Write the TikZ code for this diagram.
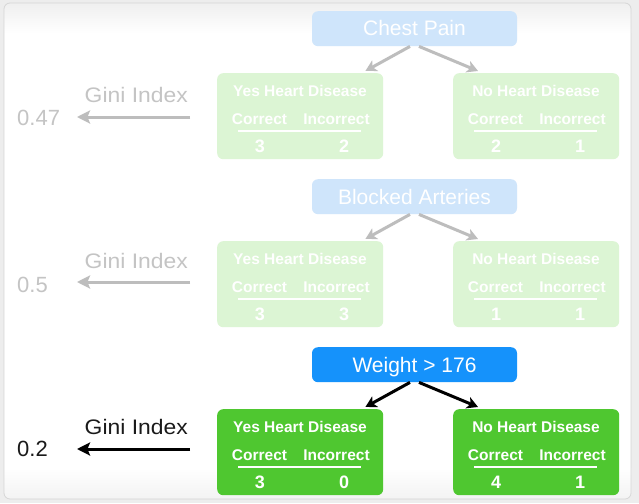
\documentclass[tikz,border=0pt]{standalone}
\usepackage{fontspec}
\usepackage{graphicx}
\setmainfont{Liberation Sans}
\usetikzlibrary{arrows.meta,calc}
\definecolor{gstrong}{HTML}{4FC730}
\definecolor{gfade}{HTML}{DCF5D4}
\definecolor{bstrong}{HTML}{1592FB}
\definecolor{bfade}{HTML}{CFE5FB}
\definecolor{afade}{HTML}{BDBDBD}
\definecolor{tfade}{HTML}{C4C4C4}
\definecolor{tdark}{HTML}{1A1A1A}
\definecolor{outerbg}{HTML}{EDEDED}
\definecolor{cardline}{HTML}{D6D6D6}
\definecolor{topg}{HTML}{EFEFEF}
\definecolor{botg}{HTML}{F3F3F3}
\tikzset{
  leaf/.style={rectangle, rounded corners=6pt, minimum width=166pt, minimum height=86pt, inner sep=0pt, draw=none},
  hdr/.style={rectangle, rounded corners=6pt, minimum width=205pt, minimum height=35pt, inner sep=0pt, draw=none},
  hdrtext/.style={inner sep=0pt, anchor=base, text=white, font=\fontsize{21}{25}\selectfont},
  ltitle/.style={inner sep=0pt, anchor=base, text=white, font=\bfseries\fontsize{15.5}{18}\selectfont},
  lsub/.style={inner sep=0pt, anchor=base, text=white, font=\bfseries\fontsize{15.5}{18}\selectfont},
  lnum/.style={inner sep=0pt, anchor=base, text=white, font=\bfseries\fontsize{18}{21}\selectfont},
  ginitext/.style={inner sep=0pt, font=\fontsize{21}{25}\selectfont},
  tarrow/.style={line width=3pt, -{Stealth[length=11pt,width=12pt,inset=3pt]}},
  garrow/.style={line width=3pt, -{Stealth[length=13pt,width=13pt,inset=2.5pt]}},
}
\newcommand\hdrbox[4]{%
  \node[hdr, fill=#4, anchor=north] (#1) at (414.5,#2) {};
  \node[hdrtext] (#1t) at ($(#1.north)+(0,25)$) {#3};
}
\newcommand\leafbox[7]{%
  \node[leaf, fill=#7, anchor=north west] (#1) at (#2,#3) {};
  \node[ltitle] (#1t) at ($(#1.north west)+(83,23)$) {#4};
  \node[lsub] (#1c) at ($(#1.north west)+(42.5,51)$) {Correct};
  \node[lsub] (#1i) at ($(#1.north west)+(119.5,51)$) {Incorrect};
  \coordinate (#1l) at ($(#1.north west)+(21,58)$);
  \coordinate (#1r) at ($(#1.north west)+(144,58)$);
  \draw[white, line width=1.6pt] (#1l) -- (#1r);
  \node[lnum] (#1a) at ($(#1.north west)+(43,79)$) {#5};
  \node[lnum] (#1b) at ($(#1.north west)+(127,79)$) {#6};
}
\newcommand\treearrows[4]{%
  \coordinate (#1sl) at ($(#1.south)+(-4.5,0)$);
  \coordinate (#1sr) at ($(#1.south)+(4.5,0)$);
  \coordinate (#1el) at ($(#2.north east)+(-18,-2)$);
  \coordinate (#1er) at ($(#3.north west)+(25,-2)$);
  \draw[tarrow, draw=#4] (#1sl) -- (#1el);
  \draw[tarrow, draw=#4] (#1sr) -- (#1er);
}
\newcommand\giniset[7]{%
  \node[ginitext, text=#6, anchor=base east] (#1g) at (188,#2) {\scalebox{1.09}[1]{Gini Index}};
  \node[ginitext, text=#6, anchor=base west] (#1n) at (17,#3) {\fontsize{22}{26}\selectfont #5};
  \coordinate (#1s) at (190,#4);
  \coordinate (#1e) at (77,#4);
  \draw[garrow, draw=#7] (#1s) -- (#1e);
}
\begin{document}
\begin{tikzpicture}[x=1pt, y=-1pt]
\useasboundingbox (0,0) rectangle (639,503);
\fill[outerbg] (0,0) rectangle (639,503);
\begin{scope}
  \clip[rounded corners=6pt] (4,3) rectangle (631,499);
  \fill[white] (4,3) rectangle (631,499);
  \shade[top color=topg, bottom color=white] (4,3) rectangle (631,33);
  \shade[top color=white, bottom color=botg] (4,468) rectangle (631,499);
\end{scope}
\draw[cardline, line width=0.8pt, rounded corners=6pt] (4,3) rectangle (631,499);

% Row 1
\hdrbox{h1}{11}{Chest Pain}{bfade}
\leafbox{y1}{217}{73}{Yes Heart Disease}{3}{2}{gfade}
\leafbox{n1}{453}{73}{No Heart Disease}{2}{1}{gfade}
\treearrows{h1}{y1}{n1}{afade}
\giniset{r1}{102}{125}{117}{0.47}{tfade}{afade}

% Row 2
\hdrbox{h2}{179}{Blocked Arteries}{bfade}
\leafbox{y2}{217}{241}{Yes Heart Disease}{3}{3}{gfade}
\leafbox{n2}{453}{241}{No Heart Disease}{1}{1}{gfade}
\treearrows{h2}{y2}{n2}{afade}
\giniset{r2}{268}{292}{282}{0.5}{tfade}{afade}

% Row 3
\hdrbox{h3}{347}{Weight > 176}{bstrong}
\leafbox{y3}{217}{409}{Yes Heart Disease}{3}{0}{gstrong}
\leafbox{n3}{453}{409}{No Heart Disease}{4}{1}{gstrong}
\treearrows{h3}{y3}{n3}{black}
\giniset{r3}{434}{456}{449}{0.2}{tdark}{black}
\end{tikzpicture}
\end{document}
